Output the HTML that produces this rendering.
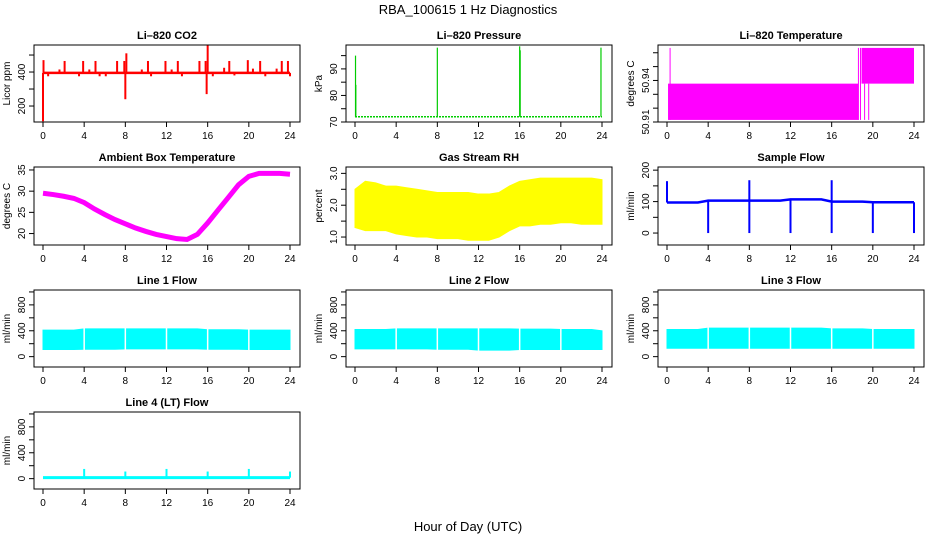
<!DOCTYPE html>
<html><head><meta charset="utf-8"><style>
body{margin:0;background:#fff}
svg{display:block;font-family:"Liberation Sans",sans-serif}
.tt{font-size:11px;font-weight:bold;text-anchor:middle}
.tk{font-size:10px;text-anchor:middle}
</style></head><body>
<svg id="c" width="936" height="540" viewBox="0 0 936 540">
<text x="468" y="14" font-size="13" text-anchor="middle">RBA_100615  1 Hz Diagnostics</text>
<text x="468" y="531" font-size="13" text-anchor="middle">Hour of Day (UTC)</text>
</svg>
<script>
const hours=[0,1,2,3,4,5,6,7,8,9,10,11,12,13,14,15,16,17,18,19,20,21,22,23,24];
const xTicks=[0,4,8,12,16,20,24];
// CO2
const co2Base=395;
const co2SpikeT=[0,0.05,0.5,1.6,2.1,3.5,3.9,4.5,5.1,5.5,6.1,7.2,7.9,8,8.1,9.6,10.2,10.5,11.9,12.5,13.1,13.5,15.2,15.8,15.9,16,16.5,17.6,18.1,18.6,19.9,20.4,21.1,21.6,22.7,23.2,23.8,24];
const co2SpikeV=[110,470,375,415,465,375,465,415,465,375,375,465,465,240,510,415,465,375,465,415,465,375,465,465,270,560,375,425,465,380,470,420,465,375,420,465,465,375];
// Pressure
const presBase=72;
const presSpikeT=[0.05,0.08,8,16,16.05,23.9];
const presSpikeV=[95,84,98,98.5,97,98];
// Li-820 temperature
const tempBandT=[[0.1,18.6],[18.9,24]];
const tempBandLo=[50.9115,50.9377];
const tempBandHi=[50.9377,50.9635];
const tempLineT=[0.3,18.6,18.8,19.2,19.6];
const tempLineLo=[50.9115,50.9115,50.9115,50.9115,50.9115];
const tempLineHi=[50.9635,50.9635,50.9635,50.9377,50.9377];
// Ambient
const ambient=[29.5,29.2,28.8,28.3,27.3,25.8,24.5,23.3,22.3,21.3,20.5,19.8,19.3,18.8,18.6,19.8,22.5,25.5,28.5,31.5,33.5,34.2,34.2,34.2,34.0];
// RH
const rhLo=[1.3,1.2,1.2,1.2,1.1,1.05,1.0,1.0,0.95,0.95,0.95,0.9,0.9,0.9,1.0,1.2,1.35,1.35,1.4,1.4,1.45,1.45,1.4,1.4,1.4];
const rhHi=[2.5,2.75,2.7,2.6,2.6,2.55,2.5,2.45,2.4,2.4,2.4,2.4,2.35,2.35,2.4,2.6,2.75,2.8,2.85,2.85,2.85,2.85,2.85,2.85,2.8];
// Sample flow
const sfBase=[97,97,97,97,103,103,103,103,103,103,103,103,107,107,107,107,100,100,100,100,98,98,98,98,98];
const sfSpikeT=[0,4,8,8,12,16,16,20,24];
const sfSpikeV=[165,0,0,168,0,0,168,0,0];
// Line flows
const l1Lo=[110,110,110,110,115,115,115,115,120,120,120,120,120,120,120,120,115,115,115,115,110,110,110,110,110];
const l1Hi=[410,410,410,410,430,430,430,430,430,430,430,430,430,430,430,430,415,415,415,415,410,410,410,410,410];
const l2Lo=[120,120,120,120,120,120,120,120,115,115,115,115,100,100,100,100,110,110,110,110,110,110,110,110,110];
const l2Hi=[420,420,420,420,430,430,430,430,430,430,430,430,430,430,430,430,425,425,425,425,420,420,420,420,400];
const l3Lo=[130,130,130,130,130,130,130,130,130,130,130,130,130,130,130,130,130,130,130,130,130,130,130,130,130];
const l3Hi=[420,420,420,420,440,440,440,440,440,440,440,440,440,440,440,440,430,430,430,430,420,420,420,420,420];
const gapT=[4,8,12,16,20];
const l4Base=15;
const l4SpikeT=[4,8,12,16,20,24];
const l4SpikeV=[150,110,150,110,150,110];

const svg=document.getElementById('c');
const NS='http://www.w3.org/2000/svg';
function mk(tag,attrs,parent){const e=document.createElementNS(NS,tag);for(const k in attrs)e.setAttribute(k,attrs[k]);(parent||svg).appendChild(e);return e;}

function panel(name,title,ylab,left,top,bottom,ymin,ymax,yTicks,yLabels,color){
  const g=mk('g',{});
  
  
  const W=266;
  const x=v=>left+9+v/24*247;
  const y=v=>bottom-(v-ymin)/(ymax-ymin)*(bottom-top);
  const t=mk('text',{x:left+W/2,y:top-6,class:'tt'},g);t.textContent=title;
  
  
  const plot=mk('g',{},g);
  
  
  const frame=mk('rect',{x:left,y:top,width:W,height:bottom-top,fill:'none',stroke:'#000','stroke-width':1},g);
  
  
  const xa=mk('g',{},g);
  
  
  mk('line',{x1:x(0),x2:x(24),y1:bottom,y2:bottom,stroke:'#000'},xa);
  xTicks.forEach(v=>{mk('line',{x1:x(v),x2:x(v),y1:bottom,y2:bottom+5,stroke:'#000'},xa);
    const l=mk('text',{x:x(v),y:bottom+17,class:'tk'},xa);l.textContent=v;});
  const ya=mk('g',{},g);
  
  
  mk('line',{x1:left,x2:left,y1:y(yTicks[0]),y2:y(yTicks[yTicks.length-1]),stroke:'#000'},ya);
  yTicks.forEach((v,i)=>{mk('line',{x1:left-5,x2:left,y1:y(v),y2:y(v),stroke:'#000'},ya);
    if(yLabels[i]!==''){const l=mk('text',{x:0,y:0,class:'tk',transform:`translate(${left-9},${y(v)}) rotate(-90)`},ya);l.textContent=yLabels[i];}});
  const yl=mk('text',{x:0,y:0,class:'tk',transform:`translate(${left-24},${(top+bottom)/2}) rotate(-90)`},g);
  yl.textContent=ylab;
  
  
  const cp='cp'+name;
  const defs=mk('clipPath',{id:cp},g);mk('rect',{x:left,y:top,width:W,height:bottom-top},defs);
  plot.setAttribute('clip-path',`url(#${cp})`);
  return {x,y,plot,color};
}
function vline(p,t,a,b,w){mk('line',{x1:p.x(t),x2:p.x(t),y1:p.y(a),y2:p.y(b),stroke:p.color,'stroke-width':w||1.5},p.plot);}
function band(p,lo,hi){let d='';hours.forEach((h,i)=>d+=(i?'L':'M')+p.x(h)+','+p.y(hi[i]));
  for(let i=hours.length-1;i>=0;i--)d+='L'+p.x(hours[i])+','+p.y(lo[i]);
  mk('path',{d:d+'Z',fill:p.color,stroke:p.color},p.plot);}
function line(p,vals,w){mk('polyline',{points:hours.map((h,i)=>p.x(h)+','+p.y(vals[i])).join(' '),fill:'none',stroke:p.color,'stroke-width':w},p.plot);}

const L=[34,346,658],R=[[45,122],[167,245],[290,367],[412,489]];
// CO2
let p=panel('co2-panel','Li\u2013820 CO2','Licor ppm',L[0],R[0][0],R[0][1],106,559,[200,300,400,500],['200','','400',''],'#ff0000');
mk('line',{x1:p.x(0),x2:p.x(24),y1:p.y(co2Base),y2:p.y(co2Base),stroke:'#ff0000','stroke-width':2.5},p.plot);
co2SpikeT.forEach((t,i)=>vline(p,t,co2Base,co2SpikeV[i],2));
// Pressure
p=panel('pressure-panel','Li\u2013820 Pressure','kPa',L[1],R[0][0],R[0][1],70,99,[70,75,80,85,90,95],['70','','80','','90',''],'#00cc00');
mk('line',{x1:p.x(0),x2:p.x(24),y1:p.y(presBase),y2:p.y(presBase),stroke:'#00cc00','stroke-width':1.5,'stroke-dasharray':'2,1'},p.plot);
presSpikeT.forEach((t,i)=>vline(p,t,presBase,presSpikeV[i],1.2));
// Li temp
p=panel('li820-temp-panel','Li\u2013820 Temperature','degrees C',L[2],R[0][0],R[0][1],50.91,50.9656,[50.91,50.92,50.93,50.94,50.95,50.96],['50.91','','','50.94','',''],'#ff00ff');
tempBandT.forEach((r,i)=>mk('rect',{x:p.x(r[0]),y:p.y(tempBandHi[i]),width:p.x(r[1])-p.x(r[0]),height:p.y(tempBandLo[i])-p.y(tempBandHi[i]),fill:'#ff00ff'},p.plot));
tempLineT.forEach((t,i)=>vline(p,t,tempLineLo[i],tempLineHi[i],1));
// Ambient
p=panel('ambient-temp-panel','Ambient Box Temperature','degrees C',L[0],R[1][0],R[1][1],17.3,35.7,[20,25,30,35],['20','25','30','35'],'#ff00ff');
line(p,ambient,5);
// RH
p=panel('rh-panel','Gas Stream RH','percent',L[1],R[1][0],R[1][1],0.75,3.2,[1,1.5,2,2.5,3],['1.0','','2.0','','3.0'],'#ffff00');
band(p,rhLo,rhHi);
// Sample flow
p=panel('sample-flow-panel','Sample Flow','ml/min',L[2],R[1][0],R[1][1],-38,210,[0,50,100,150,200],['0','','100','','200'],'#0000ff');
line(p,sfBase,2.5);
sfSpikeT.forEach((t,i)=>vline(p,t,sfBase[Math.min(24,Math.round(t))],sfSpikeV[i],2));
// Line flows
function flow(name,title,left,top,bottom,lo,hi){
  const q=panel(name,title,'ml/min',left,top,bottom,-160,1030,[0,200,400,600,800,1000],['0','','400','','800',''],'#00ffff');
  band(q,lo,hi);
  gapT.forEach(t=>mk('line',{x1:q.x(t),x2:q.x(t),y1:q.y(450),y2:q.y(90),stroke:'#fff','stroke-width':1.5},q.plot));
  return q;
}
flow('line1-flow-panel','Line 1 Flow',L[0],R[2][0],R[2][1],l1Lo,l1Hi);
flow('line2-flow-panel','Line 2 Flow',L[1],R[2][0],R[2][1],l2Lo,l2Hi);
flow('line3-flow-panel','Line 3 Flow',L[2],R[2][0],R[2][1],l3Lo,l3Hi);
p=panel('line4-flow-panel','Line 4 (LT) Flow','ml/min',L[0],R[3][0],R[3][1],-160,1030,[0,200,400,600,800,1000],['0','','400','','800',''],'#00ffff');
mk('line',{x1:p.x(0),x2:p.x(24),y1:p.y(l4Base),y2:p.y(l4Base),stroke:'#00ffff','stroke-width':3},p.plot);
l4SpikeT.forEach((t,i)=>vline(p,t,l4Base,l4SpikeV[i],2));
</script>
</body></html>
